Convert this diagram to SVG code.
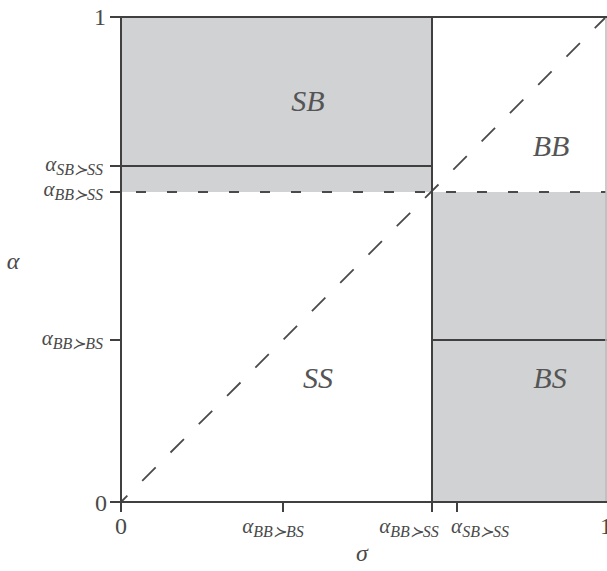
<svg xmlns="http://www.w3.org/2000/svg" width="607" height="571" viewBox="0 0 607 571">
<style>
.ax{stroke:#404040;stroke-width:2;fill:none}
.fill{fill:#d1d2d4;stroke:none}
.dash{stroke:#4a4a4a;stroke-width:1.8;fill:none}
.t{font-family:"Liberation Serif","DejaVu Serif",serif;fill:#4a4a4a}
.it{font-style:italic}
.reg{font-family:"Liberation Serif","DejaVu Serif",serif;font-style:italic;font-size:30px;fill:#555;text-anchor:middle}
.lab{font-size:21px}
.sub{font-size:16px}
</style>
<rect x="0" y="0" width="607" height="571" fill="#fff"/>
<g id="regions">
<rect class="fill" x="121" y="17" width="311" height="175"/>
<rect class="fill" x="432" y="192" width="175" height="310"/>
</g>
<g id="connectors">
<line class="dash" x1="121" y1="502" x2="606" y2="17" stroke-dasharray="19 21" stroke-dashoffset="10"/>
<line class="dash" x1="136" y1="192" x2="606" y2="192" stroke-dasharray="10 21"/>
<line class="ax" x1="121" y1="166" x2="432" y2="166"/>
<line class="ax" x1="432" y1="340" x2="607" y2="340"/>
<line class="ax" x1="432" y1="17" x2="432" y2="502"/>
<line x1="606" y1="17" x2="606" y2="502" stroke="#bbb" stroke-width="1.5"/>
<line class="ax" x1="121" y1="17" x2="607" y2="17"/>
<line class="ax" x1="121" y1="17" x2="121" y2="502"/>
<line class="ax" x1="121" y1="502" x2="607" y2="502"/>
<line class="ax" x1="110" y1="17" x2="121" y2="17"/>
<line class="ax" x1="110" y1="166" x2="121" y2="166"/>
<line class="ax" x1="110" y1="192" x2="121" y2="192"/>
<line class="ax" x1="110" y1="340" x2="121" y2="340"/>
<line class="ax" x1="110" y1="502" x2="121" y2="502"/>
<line class="ax" x1="121" y1="502" x2="121" y2="512"/>
<line class="ax" x1="283" y1="502" x2="283" y2="512"/>
<line class="ax" x1="432" y1="502" x2="432" y2="512"/>
<line class="ax" x1="457" y1="502" x2="457" y2="512"/>
</g>
<g id="labels">
<text class="reg" x="308" y="111">SB</text>
<text class="reg" x="551" y="156">BB</text>
<text class="reg" x="318" y="388">SS</text>
<text class="reg" x="550" y="388">BS</text>
<text class="t" x="106" y="25" font-size="24" text-anchor="end">1</text>
<text class="t" x="107" y="511" font-size="24" text-anchor="end">0</text>
<text class="t" x="121" y="534" font-size="24" text-anchor="middle">0</text>
<text class="t" x="606" y="534" font-size="24" text-anchor="middle">1</text>
<text class="t it" x="13" y="269" font-size="24" text-anchor="middle">α</text>
<text class="t it" x="362" y="561" font-size="24" text-anchor="middle">σ</text>
<text class="t it" x="103" y="171" text-anchor="end"><tspan class="lab">α</tspan><tspan class="sub" dy="4">SB≻SS</tspan></text>
<text class="t it" x="103" y="196" text-anchor="end"><tspan class="lab">α</tspan><tspan class="sub" dy="4">BB≻SS</tspan></text>
<text class="t it" x="103" y="345" text-anchor="end"><tspan class="lab">α</tspan><tspan class="sub" dy="4">BB≻BS</tspan></text>
<text class="t it" x="273" y="533" text-anchor="middle"><tspan class="lab">α</tspan><tspan class="sub" dy="4">BB≻BS</tspan></text>
<text class="t it" x="409" y="533" text-anchor="middle"><tspan class="lab">α</tspan><tspan class="sub" dy="4">BB≻SS</tspan></text>
<text class="t it" x="480" y="533" text-anchor="middle"><tspan class="lab">α</tspan><tspan class="sub" dy="4">SB≻SS</tspan></text>
</g>
</svg>
